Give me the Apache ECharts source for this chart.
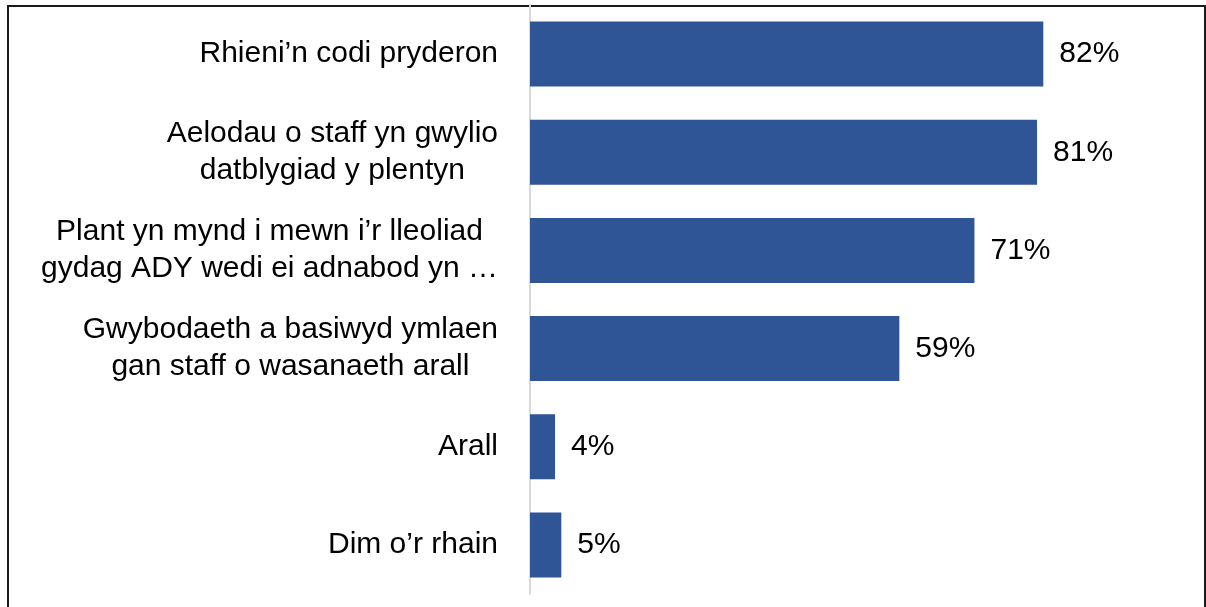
<!DOCTYPE html>
<html>
<head>
<meta charset="utf-8">
<script src="https://cdn.jsdelivr.net/npm/echarts@6/dist/echarts.min.js"></script>
<style>
  html, body { margin: 0; padding: 0; background: #fff; }
  #chart { width: 1206px; height: 607px; }
</style>
</head>
<body>
<div id="chart"></div>
<script>
// categories top -> bottom
const categories = [
  'Rhieni\u2019n codi pryderon',
  'Aelodau o staff yn gwylio\ndatblygiad y plentyn',
  'Plant yn mynd i mewn i\u2019r lleoliad\ngydag ADY wedi ei adnabod yn \u2026',
  'Gwybodaeth a basiwyd ymlaen\ngan staff o wasanaeth arall',
  'Arall',
  'Dim o\u2019r rhain'
]
const values = [82, 81, 71, 59, 4, 5]

let myChart = echarts.init(document.getElementById('chart'))
let option = {
  animation: false,
  textStyle: { fontFamily: 'Liberation Sans, Arial, sans-serif' },
  graphic: [
    {
      type: 'rect',
      z: -1,
      shape: { x: 8, y: 6, width: 1197, height: 640 },
      style: { fill: 'none', stroke: '#1a1a1a', lineWidth: 2 }
    }
  ],
  grid: {
    left: 530,
    right: 50,
    top: 5,
    bottom: 13
  },
  xAxis: {
    type: 'value',
    min: 0,
    max: 100,
    show: false
  },
  yAxis: {
    type: 'category',
    inverse: true,
    data: categories,
    axisLine: { show: true, lineStyle: { color: '#d9d9d9', width: 2 } },
    axisTick: { show: false },
    axisLabel: {
      margin: 32,
      fontSize: 30,
      lineHeight: 37,
      color: '#000',
      align: 'right',
      // each line centred inside the right-aligned block
      formatter: function (v) {
        return v.split('\n').map(function (l) { return '{c|' + l + '}' }).join('\n')
      },
      rich: {
        c: { align: 'center', fontSize: 30, lineHeight: 37, color: '#000' }
      }
    }
  },
  series: [
    {
      type: 'bar',
      data: values,
      barWidth: 65,
      itemStyle: { color: '#2F5597' },
      label: {
        show: true,
        position: 'right',
        distance: 16,
        fontSize: 30,
        color: '#000',
        formatter: '{c}%'
      }
    }
  ]
}
myChart.setOption(option)
</script>
</body>
</html>
